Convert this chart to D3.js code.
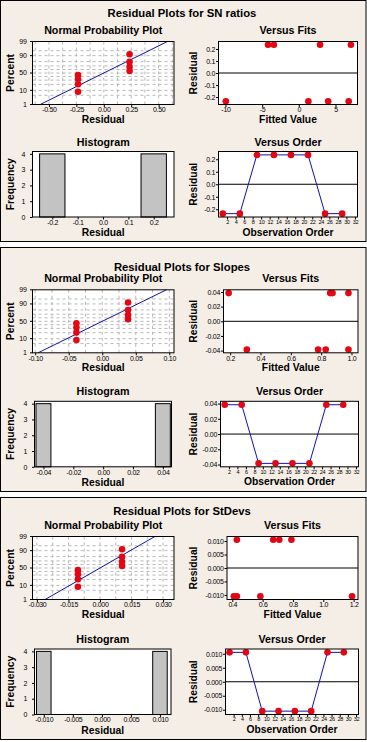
<!DOCTYPE html>
<html><head><meta charset="utf-8">
<script src="https://cdn.jsdelivr.net/npm/d3@7"></script>
<style>
html,body{margin:0;padding:0;background:#ffffff;}
svg{display:block;}
text{font-family:"Liberation Sans",Arial,sans-serif;fill:#000;}
</style></head><body>
<svg id="c" width="367" height="742"></svg>
<script>
// ---------------- DATA ----------------
const panelTitles = ["Residual Plots for SN ratios", "Residual Plots for Slopes", "Residual Plots for StDevs"];
const observation = [1, 5, 9, 13, 17, 21, 25, 29];
const nppPercent = [8.3, 20.2, 32.1, 44.0, 56.0, 67.9, 79.8, 91.7];
const percentTicks = [1, 10, 50, 90, 99];
const percentLabels = ["1", "10", "50", "90", "99"];
const percentGrid = [5, 10, 20, 30, 40, 50, 60, 70, 80, 90, 95];
const orderTicks = [2, 4, 6, 8, 10, 12, 14, 16, 18, 20, 22, 24, 26, 28, 30, 32];
const freqTicks = [0, 1, 2, 3, 4];

// SN ratios
const snResidual = [-0.235, -0.235, 0.235, 0.235, 0.235, 0.235, -0.235, -0.235];
const snFitted = [-9.95, 1.3, -4.2, -3.4, 2.9, 7.1, 4.0, 6.8];
const snNppTicks = [-0.5, -0.25, 0, 0.25, 0.5];
const snNppLabels = ["-0.50", "-0.25", "0.00", "0.25", "0.50"];
const snNppLine = [-0.58, 0.58];
const snFitTicks = [-10, -5, 0, 5];
const snFitLabels = ["-10", "-5", "0", "5"];
const snResTicks = [-0.2, -0.1, 0, 0.1, 0.2];
const snResLabels = ["-0.2", "-0.1", "0.0", "0.1", "0.2"];
const snHistCenters = [-0.2, -0.1, 0, 0.1, 0.2];
const snHistCounts = [4, 0, 0, 0, 4];
const snHistWidth = 0.1;
const snHistLabels = ["-0.2", "-0.1", "0.0", "0.1", "0.2"];

// Slopes
const slResidual = [0.0385, 0.0385, -0.0385, -0.0385, -0.0385, -0.0385, 0.0385, 0.0385];
const slFitted = [0.19, 0.86, 0.31, 0.78, 0.83, 0.98, 0.875, 0.98];
const slNppTicks = [-0.1, -0.05, 0, 0.05, 0.1];
const slNppLabels = ["-0.10", "-0.05", "0.00", "0.05", "0.10"];
const slNppLine = [-0.0957, 0.0957];
const slFitTicks = [0.2, 0.4, 0.6, 0.8, 1.0];
const slFitLabels = ["0.2", "0.4", "0.6", "0.8", "1.0"];
const slResTicks = [-0.04, -0.02, 0, 0.02, 0.04];
const slResLabels = ["-0.04", "-0.02", "0.00", "0.02", "0.04"];
const slHistCenters = [-0.04, -0.03, -0.02, -0.01, 0, 0.01, 0.02, 0.03, 0.04];
const slHistCounts = [4, 0, 0, 0, 0, 0, 0, 0, 4];
const slHistWidth = 0.01;
const slHistLabels = ["-0.04", "-0.02", "0.00", "0.02", "0.04"];
const slHistTicks = [-0.04, -0.02, 0, 0.02, 0.04];

// StDevs
const sdResidual = [0.0105, 0.0105, -0.0105, -0.0105, -0.0105, -0.0105, 0.0105, 0.0105];
const sdFitted = [0.43, 0.67, 0.41, 0.43, 0.585, 1.19, 0.71, 0.79];
const sdNppTicks = [-0.03, -0.015, 0, 0.015, 0.03];
const sdNppLabels = ["-0.030", "-0.015", "0.000", "0.015", "0.030"];
const sdNppLine = [-0.0261, 0.0261];
const sdFitTicks = [0.4, 0.6, 0.8, 1.0, 1.2];
const sdFitLabels = ["0.4", "0.6", "0.8", "1.0", "1.2"];
const sdResTicks = [-0.01, -0.005, 0, 0.005, 0.01];
const sdResLabels = ["-0.010", "-0.005", "0.000", "0.005", "0.010"];
const sdHistCenters = [-0.01, -0.0075, -0.005, -0.0025, 0, 0.0025, 0.005, 0.0075, 0.01];
const sdHistCounts = [4, 0, 0, 0, 0, 0, 0, 0, 4];
const sdHistWidth = 0.0025;
const sdHistLabels = ["-0.010", "-0.005", "0.000", "0.005", "0.010"];
const sdHistTicks = [-0.01, -0.005, 0, 0.005, 0.01];

// ---------------- CONFIG (layout) ----------------
const panels = [
  {title: panelTitles[0], resid: snResidual, fitted: snFitted,
   npp: {domain: [-0.65, 0.64], ticks: snNppTicks, labels: snNppLabels, line: snNppLine},
   fits: {domain: [-10.95, 8.0], ticks: snFitTicks, labels: snFitLabels},
   res: {domain: [-0.262, 0.262], ticks: snResTicks, labels: snResLabels},
   hist: {domain: [-0.278, 0.28], centers: snHistCenters, counts: snHistCounts, width: snHistWidth, ticks: snHistCenters, labels: snHistLabels}},
  {title: panelTitles[1], resid: slResidual, fitted: slFitted,
   npp: {domain: [-0.104, 0.107], ticks: slNppTicks, labels: slNppLabels, line: slNppLine},
   fits: {domain: [0.156, 1.043], ticks: slFitTicks, labels: slFitLabels},
   res: {domain: [-0.043, 0.043], ticks: slResTicks, labels: slResLabels},
   hist: {domain: [-0.046, 0.0458], centers: slHistCenters, counts: slHistCounts, width: slHistWidth, ticks: slHistTicks, labels: slHistLabels}},
  {title: panelTitles[2], resid: sdResidual, fitted: sdFitted,
   npp: {domain: [-0.0321, 0.0352], ticks: sdNppTicks, labels: sdNppLabels, line: sdNppLine},
   fits: {domain: [0.365, 1.229], ticks: sdFitTicks, labels: sdFitLabels},
   res: {domain: [-0.0117, 0.0117], ticks: sdResTicks, labels: sdResLabels},
   hist: {domain: [-0.0116, 0.0119], centers: sdHistCenters, counts: sdHistCounts, width: sdHistWidth, ticks: sdHistTicks, labels: sdHistLabels}}
];

const L = {
  box: [[0.5, 241.5], [247.5, 491.5], [497.5, 739.5]],
  offset: [0, 248.3, 495],
  bottomShift: [0, 1.5, 2.5],
  titleBaseline: [16.5, 270.8, 515.2],
  leftX: [32.5, 174],
  histX: [[32.5, 174], [34.5, 171.5], [34.5, 171]],
  fitsX: [[218.5, 357.5], [223.5, 358], [227, 358]],
  orderX: [[218.5, 357.5], [220.5, 358.5], [225.5, 358.5]],
  topY: [41.5, 104.5],
  botY: [151.5, 217]
};

const BG = "#f5eee7";
const RED = "#e30613";
const BLUE = "#1010b0";
const TICK_FS = 7;

function probit(p) {
  const a = [-3.969683028665376e+01, 2.209460984245205e+02, -2.759285104469687e+02, 1.383577518672690e+02, -3.066479806614716e+01, 2.506628277459239e+00];
  const b = [-5.447609879822406e+01, 1.615858368580409e+02, -1.556989798598866e+02, 6.680131188771972e+01, -1.328068155288572e+01];
  const c = [-7.784894002430293e-03, -3.223964580411365e-01, -2.400758277161838e+00, -2.549732539343734e+00, 4.374664141464968e+00, 2.938163982698783e+00];
  const d = [7.784695709041462e-03, 3.224671290700398e-01, 2.445134137142996e+00, 3.754408661907416e+00];
  const pl = 0.02425, ph = 1 - pl; let q, r;
  if (p < pl) { q = Math.sqrt(-2 * Math.log(p)); return (((((c[0]*q+c[1])*q+c[2])*q+c[3])*q+c[4])*q+c[5])/((((d[0]*q+d[1])*q+d[2])*q+d[3])*q+1); }
  if (p <= ph) { q = p - 0.5; r = q*q; return (((((a[0]*r+a[1])*r+a[2])*r+a[3])*r+a[4])*r+a[5])*q/(((((b[0]*r+b[1])*r+b[2])*r+b[3])*r+b[4])*r+1); }
  q = Math.sqrt(-2 * Math.log(1 - p)); return -(((((c[0]*q+c[1])*q+c[2])*q+c[3])*q+c[4])*q+c[5])/((((d[0]*q+d[1])*q+d[2])*q+d[3])*q+1);
}

const svg = d3.select("#c");
svg.append("rect").attr("width", 367).attr("height", 742).attr("fill", "#ffffff");

function styleAxis(g, fs) {
  g.select(".domain").remove();
  g.selectAll(".tick line").attr("stroke", "#000").attr("stroke-width", 1);
  g.selectAll(".tick text").attr("font-size", fs || TICK_FS).attr("letter-spacing", -0.3)
    .attr("font-family", '"Liberation Sans",Arial,sans-serif').attr("fill", "#000");
}
function subTitle(g, text, cx, baseline) {
  g.append("text").attr("x", cx).attr("y", baseline).attr("text-anchor", "middle")
    .attr("font-size", 10.7).attr("font-weight", "bold").text(text);
}
function xTitle(g, text, cx, baseline) {
  g.append("text").attr("x", cx).attr("y", baseline).attr("text-anchor", "middle")
    .attr("font-size", 10.3).attr("font-weight", "bold").text(text);
}
function yTitle(g, text, bx, cy) {
  g.append("text").attr("transform", `translate(${bx},${cy}) rotate(-90)`).attr("text-anchor", "middle")
    .attr("font-size", 10.3).attr("font-weight", "bold").text(text);
}
function frame(g, x0, x1, y0, y1) {
  g.append("rect").attr("x", x0).attr("y", y0).attr("width", x1 - x0).attr("height", y1 - y0)
    .attr("fill", "#fff").attr("stroke", "none");
}
function frameBorder(g, x0, x1, y0, y1) {
  g.append("rect").attr("x", x0).attr("y", y0).attr("width", x1 - x0).attr("height", y1 - y0)
    .attr("fill", "none").attr("stroke", "#000").attr("stroke-width", 1);
}

panels.forEach((P, i) => {
  const box = L.box[i];
  svg.append("rect").attr("x", 0.5).attr("y", box[0]).attr("width", 365.5).attr("height", box[1] - box[0])
    .attr("fill", BG).attr("stroke", "#000").attr("stroke-width", 1);
  svg.append("text").attr("x", 182).attr("y", L.titleBaseline[i]).attr("text-anchor", "middle")
    .attr("font-size", 11.3).attr("font-weight", "bold").text(P.title);

  const g = svg.append("g").attr("transform", `translate(0,${L.offset[i]})`);
  const [ty0, ty1] = L.topY;
  const by0 = L.botY[0] + L.bottomShift[i], by1 = L.botY[1] + L.bottomShift[i];

  // ---------- Normal probability plot ----------
  {
    const [x0, x1] = L.leftX;
    const x = d3.scaleLinear().domain(P.npp.domain).range([x0, x1]);
    const yz = d3.scaleLinear().domain([probit(0.01), probit(0.99)]).range([ty1, ty0]);
    const y = p => yz(probit(p / 100));
    subTitle(g, "Normal Probability Plot", (x0 + x1) / 2, 33.7);
    frame(g, x0, x1, ty0, ty1);
    const step = (P.npp.ticks[1] - P.npp.ticks[0]) / 2;
    const grid = d3.range(Math.ceil(P.npp.domain[0] / step), Math.floor(P.npp.domain[1] / step) + 1).map(k => k * step);
    g.append("g").selectAll("line").data(grid).join("line")
      .attr("x1", d => x(d)).attr("x2", d => x(d)).attr("y1", ty0).attr("y2", ty1)
      .attr("stroke", "#b8b8b8").attr("stroke-dasharray", "3,3");
    g.append("g").selectAll("line").data(percentGrid).join("line")
      .attr("x1", x0).attr("x2", x1).attr("y1", d => y(d)).attr("y2", d => y(d))
      .attr("stroke", "#b8b8b8").attr("stroke-dasharray", "3,3");
    g.append("line").attr("x1", x(P.npp.line[0])).attr("y1", y(1)).attr("x2", x(P.npp.line[1])).attr("y2", y(99))
      .attr("stroke", BLUE).attr("stroke-width", 1);
    const sorted = d3.sort(P.resid);
    g.append("g").selectAll("circle").data(sorted).join("circle")
      .attr("cx", d => x(d)).attr("cy", (d, k) => y(nppPercent[k])).attr("r", 3.3).attr("fill", RED);
    frameBorder(g, x0, x1, ty0, ty1);
    const ax = g.append("g").attr("transform", `translate(0,${ty1})`)
      .call(d3.axisBottom(x).tickValues(P.npp.ticks).tickFormat((d, k) => P.npp.labels[k]).tickSize(2.5).tickPadding(0.5));
    styleAxis(ax);
    const yTickPos = percentTicks.map(p => yz(probit(p / 100)));
    const ay = g.append("g").attr("transform", `translate(${x0},0)`);
    ay.selectAll("line").data(yTickPos).join("line").attr("x1", -2.5).attr("x2", 0).attr("y1", d => d).attr("y2", d => d).attr("stroke", "#000");
    ay.selectAll("text").data(percentLabels).join("text").attr("x", -6).attr("y", (d, k) => yTickPos[k]).attr("dy", "0.32em")
      .attr("text-anchor", "end").attr("font-size", TICK_FS).attr("letter-spacing", -0.3).text(d => d);
    xTitle(g, "Residual", (x0 + x1) / 2, 122.7);
    yTitle(g, "Percent", 13.5, (ty0 + ty1) / 2);
  }

  // ---------- Versus fits ----------
  {
    const [x0, x1] = L.fitsX[i];
    const x = d3.scaleLinear().domain(P.fits.domain).range([x0, x1]);
    const y = d3.scaleLinear().domain(P.res.domain).range([ty1, ty0]);
    subTitle(g, "Versus Fits", (x0 + x1) / 2, 33.7);
    frame(g, x0, x1, ty0, ty1);
    g.append("line").attr("x1", x0).attr("x2", x1).attr("y1", y(0)).attr("y2", y(0)).attr("stroke", "#000");
    g.append("g").selectAll("circle").data(P.fitted).join("circle")
      .attr("cx", d => x(d)).attr("cy", (d, k) => y(P.resid[k])).attr("r", 3.3).attr("fill", RED);
    frameBorder(g, x0, x1, ty0, ty1);
    const ax = g.append("g").attr("transform", `translate(0,${ty1})`)
      .call(d3.axisBottom(x).tickValues(P.fits.ticks).tickFormat((d, k) => P.fits.labels[k]).tickSize(2.5).tickPadding(0.5));
    styleAxis(ax);
    const ay = g.append("g").attr("transform", `translate(${x0},0)`)
      .call(d3.axisLeft(y).tickValues(P.res.ticks).tickFormat((d, k) => P.res.labels[k]).tickSize(2.5).tickPadding(1));
    styleAxis(ay);
    xTitle(g, "Fitted Value", (x0 + x1) / 2, 122.7);
    yTitle(g, "Residual", 196.5, (ty0 + ty1) / 2);
  }

  // ---------- Histogram ----------
  {
    const [x0, x1] = L.histX[i];
    const x = d3.scaleLinear().domain(P.hist.domain).range([x0, x1]);
    const y = d3.scaleLinear().domain([0, 4.15]).range([by1, by0]);
    subTitle(g, "Histogram", (x0 + x1) / 2, 145.7 + L.bottomShift[i]);
    frame(g, x0, x1, by0, by1);
    const w = P.hist.width;
    g.append("g").selectAll("rect").data(P.hist.centers).join("rect")
      .attr("x", d => x(d - w / 2)).attr("width", d => x(d + w / 2) - x(d - w / 2))
      .attr("y", (d, k) => y(P.hist.counts[k])).attr("height", (d, k) => y(0) - y(P.hist.counts[k]))
      .attr("fill", "#c3c3c3").attr("stroke", "#000").attr("stroke-width", (d, k) => P.hist.counts[k] ? 1 : 1.6);
    frameBorder(g, x0, x1, by0, by1);
    const ax = g.append("g").attr("transform", `translate(0,${by1})`)
      .call(d3.axisBottom(x).tickValues(P.hist.ticks).tickFormat((d, k) => P.hist.labels[k]).tickSize(2.5).tickPadding(0.5));
    styleAxis(ax);
    const ay = g.append("g").attr("transform", `translate(${x0},0)`)
      .call(d3.axisLeft(y).tickValues(freqTicks).tickFormat(d3.format("d")).tickSize(2.5).tickPadding(5));
    styleAxis(ay);
    xTitle(g, "Residual", (x0 + x1) / 2, 236.3 + L.bottomShift[i]);
    yTitle(g, "Frequency", 13.5, (by0 + by1) / 2);
  }

  // ---------- Versus order ----------
  {
    const [x0, x1] = L.orderX[i];
    const x = d3.scaleLinear().domain([0, 32.6]).range([x0, x1]);
    const y = d3.scaleLinear().domain(P.res.domain).range([by1, by0]);
    subTitle(g, "Versus Order", (x0 + x1) / 2, 145.7 + L.bottomShift[i]);
    frame(g, x0, x1, by0, by1);
    g.append("line").attr("x1", x0).attr("x2", x1).attr("y1", y(0)).attr("y2", y(0)).attr("stroke", "#000");
    const line = d3.line().x((d, k) => x(observation[k])).y(d => y(d));
    g.append("path").attr("d", line(P.resid)).attr("fill", "none").attr("stroke", BLUE).attr("stroke-width", 1);
    g.append("g").selectAll("circle").data(P.resid).join("circle")
      .attr("cx", (d, k) => x(observation[k])).attr("cy", d => y(d)).attr("r", 3.3).attr("fill", RED);
    frameBorder(g, x0, x1, by0, by1);
    const ax = g.append("g").attr("transform", `translate(0,${by1})`)
      .call(d3.axisBottom(x).tickValues(orderTicks).tickFormat(d3.format("d")).tickSize(2.5).tickPadding(0.5));
    styleAxis(ax, 5.5);
    const ay = g.append("g").attr("transform", `translate(${x0},0)`)
      .call(d3.axisLeft(y).tickValues(P.res.ticks).tickFormat((d, k) => P.res.labels[k]).tickSize(2.5).tickPadding(1));
    styleAxis(ay);
    xTitle(g, "Observation Order", (x0 + x1) / 2, 235.5 + L.bottomShift[i]);
    yTitle(g, "Residual", 196.5, (by0 + by1) / 2);
  }
});
</script>
</body></html>
